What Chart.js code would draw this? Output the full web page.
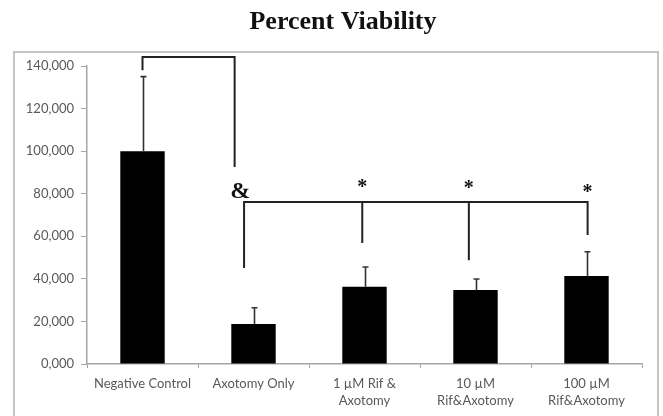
<!DOCTYPE html>
<html>
<head>
<meta charset="utf-8">
<script src="https://cdn.jsdelivr.net/npm/chart.js@4/dist/chart.umd.min.js"></script>
<style>
  html, body { margin: 0; padding: 0; background: #fff; }
  #wrap { width: 663px; height: 416px; position: relative; }
</style>
</head>
<body>
<div id="wrap"><canvas id="c" width="663" height="416"></canvas></div>
<script>
// Groups along the x axis
const categories = [
  ['Negative Control'],
  ['Axotomy Only'],
  ['1 \u00b5M Rif &', 'Axotomy'],
  ['10 \u00b5M', 'Rif&Axotomy'],
  ['100 \u00b5M', 'Rif&Axotomy']
];
// Mean viability and standard deviation per group
const viability = [100000, 18800, 36300, 34800, 41300];
const stdDev = [35000, 7600, 9300, 5100, 11400];
// Y axis labels as printed
const yTickLabels = ['0,000', '20,000', '40,000', '60,000', '80,000', '100,000', '120,000', '140,000'];

// Significance brackets (x in category index units, y in data units)
const ctrlBracket = { y: 144200, legs: [[0, 138000], [0.83, 92500]] };
const treatBracket = { y: 76100, legs: [[0.915, 45100], [1.98, 56800], [2.94, 48800], [4.01, 60600]] };
const marks = [
  { text: '&', x: 0.88, y: 80800 },
  { text: '*', x: 1.98, y: 84100 },
  { text: '*', x: 2.94, y: 83600 },
  { text: '*', x: 4.01, y: 81700 }
];

const axisGray = '#a6a6a6';
const labelGray = '#595959';

const decorations = {
  id: 'decorations',
  beforeDraw(chart) {
    const ctx = chart.ctx;
    ctx.save();
    ctx.fillStyle = '#fff';
    ctx.fillRect(0, 0, chart.width, chart.height);
    // outer frame (bottom edge runs off the canvas)
    ctx.strokeStyle = '#c4c4c4';
    ctx.lineWidth = 2;
    ctx.strokeRect(14, 52, 644, 400);
    // title
    ctx.fillStyle = '#111';
    ctx.font = 'bold 26px "Liberation Serif", "Times New Roman", serif';
    ctx.textAlign = 'center';
    ctx.textBaseline = 'alphabetic';
    ctx.fillText('Percent Viability', 343, 29);
    ctx.restore();
  },
  afterDatasetsDraw(chart) {
    const ctx = chart.ctx;
    const xs = chart.scales.x, ys = chart.scales.y;
    ctx.save();
    // error bars
    ctx.strokeStyle = '#333';
    ctx.lineWidth = 1.6;
    viability.forEach((v, i) => {
      const x = Math.round(xs.getPixelForValue(i)) + 0.5;
      const y0 = ys.getPixelForValue(v);
      const y1 = ys.getPixelForValue(v + stdDev[i]);
      ctx.beginPath();
      ctx.moveTo(x, y0);
      ctx.lineTo(x, y1);
      ctx.moveTo(x - 3, y1);
      ctx.lineTo(x + 3, y1);
      ctx.stroke();
    });
    // brackets
    ctx.strokeStyle = '#222';
    ctx.lineWidth = 2;
    [ctrlBracket, treatBracket].forEach(b => {
      const yb = ys.getPixelForValue(b.y);
      const first = xs.getPixelForValue(b.legs[0][0]);
      const last = xs.getPixelForValue(b.legs[b.legs.length - 1][0]);
      ctx.beginPath();
      ctx.moveTo(first, ys.getPixelForValue(b.legs[0][1]));
      ctx.lineTo(first, yb);
      ctx.lineTo(last, yb);
      ctx.lineTo(last, ys.getPixelForValue(b.legs[b.legs.length - 1][1]));
      b.legs.slice(1, -1).forEach(([lx, ly]) => {
        const px = xs.getPixelForValue(lx);
        ctx.moveTo(px, yb);
        ctx.lineTo(px, ys.getPixelForValue(ly));
      });
      ctx.stroke();
    });
    // significance marks
    ctx.fillStyle = '#111';
    ctx.textAlign = 'center';
    ctx.textBaseline = 'middle';
    marks.forEach(m => {
      ctx.font = m.text === '&'
        ? 'bold 24px "Liberation Serif", serif'
        : 'bold 20px "Liberation Serif", serif';
      const dy = m.text === '*' ? 3 : 0;
      ctx.fillText(m.text, xs.getPixelForValue(m.x), ys.getPixelForValue(m.y) + dy);
    });
    ctx.restore();
  }
};

new Chart(document.getElementById('c'), {
  type: 'bar',
  data: {
    labels: categories,
    datasets: [{
      data: viability,
      backgroundColor: '#000',
      borderColor: '#000',
      borderWidth: 0,
      categoryPercentage: 1,
      barPercentage: 0.4
    }]
  },
  options: {
    responsive: false,
    animation: false,
    events: [],
    layout: { padding: { left: 0, right: 21, top: 66, bottom: 0 } },
    plugins: {
      legend: { display: false },
      title: { display: false },
      tooltip: { enabled: false }
    },
    scales: {
      x: {
        offset: true,
        grid: {
          offset: true,
          drawOnChartArea: false,
          drawTicks: true,
          tickLength: 4,
          color: axisGray
        },
        border: { color: axisGray, width: 1.5 },
        ticks: {
          color: labelGray,
          font: { family: 'Lato', size: 13, lineHeight: 1.3 },
          padding: 7,
          maxRotation: 0,
          autoSkip: false
        },
        afterFit(s) { s.height = 52; }
      },
      y: {
        min: 0,
        max: 140000,
        grid: {
          drawOnChartArea: false,
          drawTicks: true,
          tickLength: 6,
          color: axisGray
        },
        border: { color: axisGray, width: 1.5 },
        ticks: {
          stepSize: 20000,
          color: labelGray,
          font: { family: 'Lato', size: 13 },
          padding: 7,
          callback: (v, i) => yTickLabels[i]
        },
        afterFit(s) { s.width = 87; }
      }
    }
  },
  plugins: [decorations]
});
</script>
</body>
</html>
